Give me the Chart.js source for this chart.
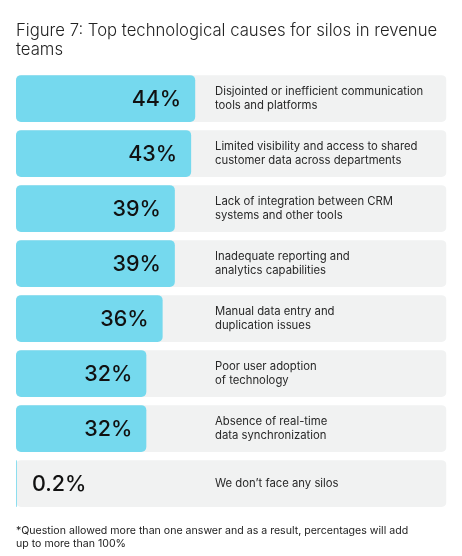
<!DOCTYPE html>
<html>
<head>
<meta charset="utf-8">
<script src="https://cdn.jsdelivr.net/npm/chart.js@4.4.1/dist/chart.umd.min.js"></script>
<style>
  html, body { margin: 0; padding: 0; background: #fff; }
  #wrap { width: 462px; height: 556px; position: relative; }
</style>
</head>
<body>
<div id="wrap"><canvas id="silos_chart"></canvas></div>
<script>
// data
var categories = [
    ["Disjointed or inefficient communication", "tools and platforms"],
    ["Limited visibility and access to shared", "customer data across departments"],
    ["Lack of integration between CRM", "systems and other tools"],
    ["Inadequate reporting and", "analytics capabilities"],
    ["Manual data entry and", "duplication issues"],
    ["Poor user adoption", "of technology"],
    ["Absence of real-time", "data synchronization"],
    ["We don\u2019t face any silos"]
];
var values = [44, 43, 39, 39, 36, 32, 32, 0.2];
var valueLabels = ["44%", "43%", "39%", "39%", "36%", "32%", "32%", "0.2%"];
var axisMax = 105.7;
var backgroundValues = categories.map(function () { return axisMax; });

var titleLines = ["Figure 7: Top technological causes for silos in revenue", "teams"];
var noteLines = ["*Question allowed more than one answer and as a result, percentages will add", "up to more than 100%"];

var FONT = "Inter, 'Noto Sans', sans-serif";

// title, footnote, value and category texts
var textPlugin = {
    id: 'texts',
    afterDatasetsDraw: function (chart) {
        var ctx = chart.ctx;
        var area = chart.chartArea;
        ctx.save();
        ctx.textBaseline = 'alphabetic';
        ctx.textAlign = 'left';

        ctx.fillStyle = '#222';
        ctx.font = "300 16.7px " + FONT;
        ctx.fillText(titleLines[0], 16, 36);
        ctx.fillText(titleLines[1], 16, 55);

        ctx.font = "400 10.6px " + FONT;
        ctx.fillStyle = '#222';
        ctx.fillText(noteLines[0], 16, 534);
        ctx.fillText(noteLines[1], 16, 547);

        var bars = chart.getDatasetMeta(0).data;
        ctx.textBaseline = 'middle';
        bars.forEach(function (bar, i) {
            // percentage
            ctx.font = "500 21.5px " + FONT;
            ctx.fillStyle = '#111';
            if (bar.x - area.left > 70) {
                ctx.textAlign = 'right';
                ctx.fillText(valueLabels[i], bar.x - 14, bar.y + 1);
            } else {
                ctx.textAlign = 'left';
                ctx.fillText(valueLabels[i], area.left + 16, bar.y + 1);
            }
            // category
            ctx.font = "400 11.3px " + FONT;
            ctx.fillStyle = '#282828';
            ctx.textAlign = 'left';
            var lines = categories[i];
            var lh = 14.3;
            var y0 = bar.y - (lines.length - 1) * lh / 2;
            lines.forEach(function (line, j) {
                ctx.fillText(line, 215, y0 + j * lh);
            });
        });
        ctx.restore();
    }
};

var silos = document.getElementById("silos_chart").getContext('2d');
var myChartBar = new Chart(silos, {
    type: 'bar',
    data: {
        labels: categories,
        datasets: [{
            label: 'Share of respondents',
            data: values,
            backgroundColor: '#75d9ee',
            borderRadius: 5,
            borderSkipped: false,
            grouped: false,
            barPercentage: 0.85,
            categoryPercentage: 1
        }, {
            label: 'Background',
            data: backgroundValues,
            backgroundColor: '#f1f2f2',
            borderRadius: 5,
            borderSkipped: false,
            grouped: false,
            barPercentage: 0.85,
            categoryPercentage: 1
        }]
    },
    options: {
        indexAxis: 'y',
        responsive: true,
        maintainAspectRatio: false,
        animation: false,
        layout: {
            padding: { left: 16, right: 15.5, top: 71, bottom: 45 }
        },
        scales: {
            x: { display: false, min: 0, max: axisMax },
            y: { display: false }
        },
        plugins: {
            legend: { display: false },
            tooltip: { enabled: false },
            title: { display: false }
        }
    },
    plugins: [textPlugin]
});
</script>
</body>
</html>
